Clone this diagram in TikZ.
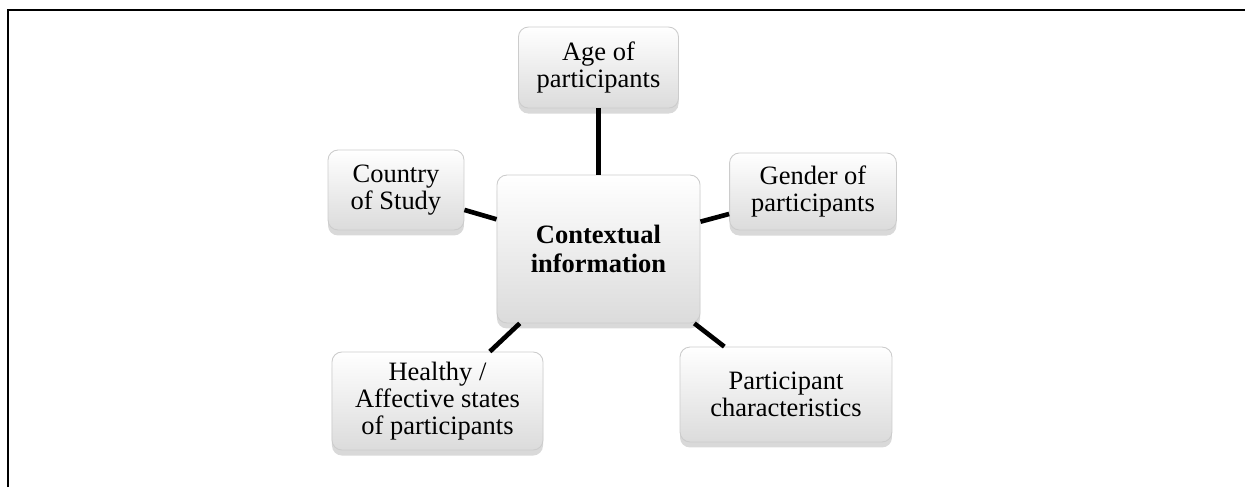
\documentclass[tikz,border=0pt]{standalone}
\usepackage{fontspec}
\setmainfont{Liberation Serif}
\usetikzlibrary{shadows,positioning}

\tikzset{
	box/.style={draw=gray!40, rounded corners=4.5pt, top color=white, bottom color=gray!28,
		align=center, inner sep=2pt, font=\fontsize{12}{12.3}\selectfont,
		drop shadow={shadow xshift=0pt, shadow yshift=-2.5pt, opacity=0.3, fill=gray}},
	spoke/.style={line width=2.1pt},
	frameline/.style={line width=1.1pt},
}

\begin{document}
\begin{tikzpicture}[x=0.453pt,y=-0.453pt]
		\useasboundingbox (0,0) rectangle (1245,487);
		\draw[frameline] (8,487) -- (8,10) -- (1245,10);
		\node (c) [box, minimum width=92pt, minimum height=67pt, font=\fontsize{12}{13}\selectfont\bfseries] at (598.5,249) {Contextual\\information};
		\node (age) [box, above of=c, node distance=82.2pt, minimum width=72.5pt, minimum height=36.7pt] {Age of\\participants};
		\node (country) [box, minimum width=61.6pt, minimum height=36.2pt] at (396,190) {Country\\of Study};
		\node (gender) [box, minimum width=75.6pt, minimum height=34.9pt] at (813,191.5) {Gender of\\participants};
		\node (healthy) [box, minimum width=95.6pt, minimum height=44.4pt] at (437.5,401) {Healthy /\\Affective states\\of participants};
		\node (part) [box, minimum width=96pt, minimum height=43pt] at (786,394.5) {Participant\\characteristics};
		\draw[spoke] (c) -- (age);
		\draw[spoke] (c) -- (country);
		\draw[spoke] (c) -- (gender);
		\draw[spoke] (c) -- (healthy);
		\draw[spoke] (c) -- (part);
	\end{tikzpicture}
\end{document}
